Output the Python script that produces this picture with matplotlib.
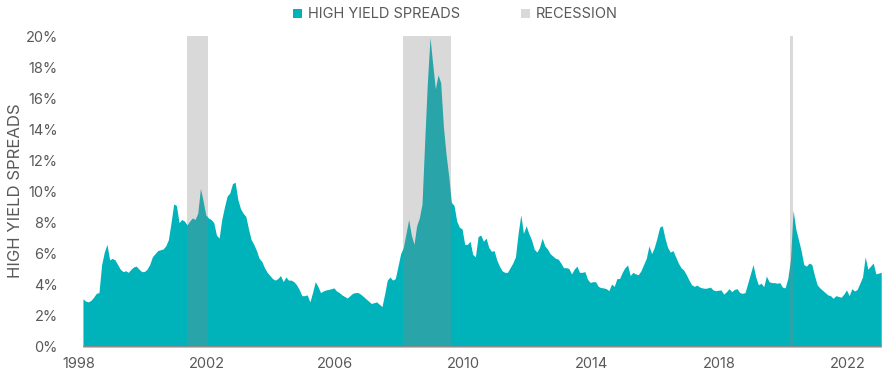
import numpy as np
import matplotlib
matplotlib.use("Agg")
import matplotlib.pyplot as plt
from matplotlib.patches import Patch

# --- DATA: monthly high yield spreads (%), Jan 1998 onwards ---
start_year = 1998
spread = [
    3.1, 2.95, 2.9, 3.0, 3.2, 3.45, 3.5, 5.3, 6.1, 6.6, 5.6, 5.7,        # 1998
    5.6, 5.3, 5.0, 4.85, 4.9, 4.8, 5.0, 5.15, 5.2, 5.0, 4.85, 4.85,     # 1999
    5.0, 5.3, 5.8, 6.0, 6.2, 6.25, 6.3, 6.5, 6.9, 8.0, 9.2, 9.1,        # 2000
    8.0, 8.2, 8.1, 7.85, 8.1, 8.3, 8.2, 8.6, 10.2, 9.4, 8.5, 8.3,       # 2001
    8.2, 8.0, 7.2, 7.0, 8.2, 9.0, 9.7, 9.9, 10.5, 10.6, 9.5, 8.9,       # 2002
    8.6, 8.4, 7.6, 6.9, 6.6, 6.2, 5.7, 5.5, 5.1, 4.8, 4.6, 4.4,         # 2003
    4.3, 4.4, 4.6, 4.2, 4.5, 4.3, 4.3, 4.2, 4.0, 3.7, 3.3, 3.3,         # 2004
    3.35, 2.9, 3.5, 4.2, 3.9, 3.5, 3.6, 3.67, 3.7, 3.75, 3.8, 3.6,      # 2005
    3.5, 3.35, 3.25, 3.15, 3.3, 3.45, 3.5, 3.5, 3.4, 3.25, 3.1, 2.95,   # 2006
    2.8, 2.85, 2.9, 2.75, 2.6, 3.4, 4.3, 4.5, 4.3, 4.4, 5.2, 6.0,       # 2007
    6.4, 7.3, 8.2, 7.2, 6.6, 7.8, 8.3, 9.2, 13.2, 17.0, 19.9, 18.2,     # 2008
    16.6, 17.5, 17.0, 14.2, 12.4, 11.0, 9.3, 9.1, 8.1, 7.7, 7.6, 6.6,   # 2009
    6.6, 6.8, 5.95, 5.8, 7.1, 7.2, 6.8, 7.0, 6.4, 6.15, 6.2, 5.6,       # 2010
    5.2, 4.9, 4.8, 4.8, 5.1, 5.4, 5.8, 7.3, 8.5, 7.3, 7.8, 7.3,         # 2011
    6.9, 6.3, 6.1, 6.4, 7.0, 6.5, 6.3, 6.0, 5.85, 5.7, 5.65, 5.4,       # 2012
    5.1, 5.1, 5.05, 4.7, 5.0, 5.2, 4.8, 4.8, 4.85, 4.35, 4.15, 4.2,     # 2013
    4.2, 3.9, 3.82, 3.8, 3.75, 3.62, 4.05, 3.9, 4.4, 4.4, 4.8, 5.1,     # 2014
    5.27, 4.6, 4.8, 4.7, 4.65, 4.9, 5.3, 5.7, 6.5, 6.0, 6.4, 7.0,       # 2015
    7.7, 7.8, 7.0, 6.4, 6.1, 6.2, 5.8, 5.4, 5.1, 4.95, 4.65, 4.3,       # 2016
    4.0, 3.9, 3.98, 3.85, 3.8, 3.77, 3.8, 3.85, 3.67, 3.62, 3.65, 3.67, # 2017
    3.4, 3.55, 3.75, 3.56, 3.7, 3.75, 3.5, 3.45, 3.5, 4.1, 4.7, 5.3,    # 2018
    4.5, 4.0, 4.1, 3.88, 4.56, 4.2, 4.14, 4.14, 4.1, 4.14, 3.85, 3.8,   # 2019
    4.4, 5.6, 8.8, 7.6, 6.9, 6.2, 5.3, 5.2, 5.4, 5.3, 4.6, 4.0,         # 2020
    3.8, 3.65, 3.5, 3.35, 3.3, 3.13, 3.3, 3.25, 3.2, 3.4, 3.67, 3.3,    # 2021
    3.75, 3.6, 3.7, 4.1, 4.5, 5.8, 5.0, 5.2, 5.4, 4.7, 4.75, 4.8,       # 2022
]

# recession periods (year, month)
recession_start = [(2001, 4), (2008, 1), (2020, 2)]
recession_end = [(2001, 12), (2009, 7), (2020, 3)]

year_ticks = [1998, 2002, 2006, 2010, 2014, 2018, 2022]
pct_ticks = [0, 2, 4, 6, 8, 10, 12, 14, 16, 18, 20]

TEAL = '#00B2B9'
TEXT = '#595959'


def month_index(y, m):
    return (y - start_year) * 12 + (m - 1)


months = np.arange(len(spread))

plt.rcParams['font.family'] = ['Inter', 'DejaVu Sans']
fig = plt.figure(figsize=(8.86, 3.77), dpi=100)
ax = fig.add_axes([0.0888, 0.0796, 0.9067, 0.8249])

ax.fill_between(months, spread, 0, color=TEAL, linewidth=0, zorder=2)

# recession bands drawn over the area as translucent grey
for s, e in zip(recession_start, recession_end):
    ax.axvspan(month_index(*s), month_index(*e), color='#868686', alpha=0.31,
               linewidth=0, zorder=3)

ax.set_xlim(-1.6, months[-1] + 0.3)
ax.set_ylim(0, 20)

for side in ['top', 'right', 'left', 'bottom']:
    ax.spines[side].set_visible(False)
ax.hlines(0, 0, months[-1] + 0.3, color='#8c8c8c', linewidth=1.5, zorder=4)

ax.set_yticks(pct_ticks)
ax.set_yticklabels([f'{v}%' for v in pct_ticks], fontsize=10.5, color=TEXT)
ax.set_xticks([month_index(y, 1) - 1.5 for y in year_ticks])
ax.set_xticklabels([str(y) for y in year_ticks], fontsize=10.5, color=TEXT)
ax.tick_params(axis='y', length=0, pad=15)
ax.tick_params(axis='x', length=0, pad=7)

fig.text(0.018, 0.495, 'HIGH YIELD SPREADS', rotation=90, ha='center', va='center',
         fontsize=12, color=TEXT)

handles = [Patch(facecolor=TEAL, edgecolor='none'),
           Patch(facecolor='#868686', alpha=0.31, edgecolor='none')]
leg = fig.legend(handles, ['HIGH YIELD SPREADS', 'RECESSION'], loc='center',
                 bbox_to_anchor=(0.514, 0.962), ncol=2, frameon=False,
                 handlelength=0.6, handleheight=0.6, handletextpad=0.4,
                 columnspacing=4.2, prop={'size': 10.5})
for t in leg.get_texts():
    t.set_color(TEXT)

fig.savefig('out.png', dpi=100)
